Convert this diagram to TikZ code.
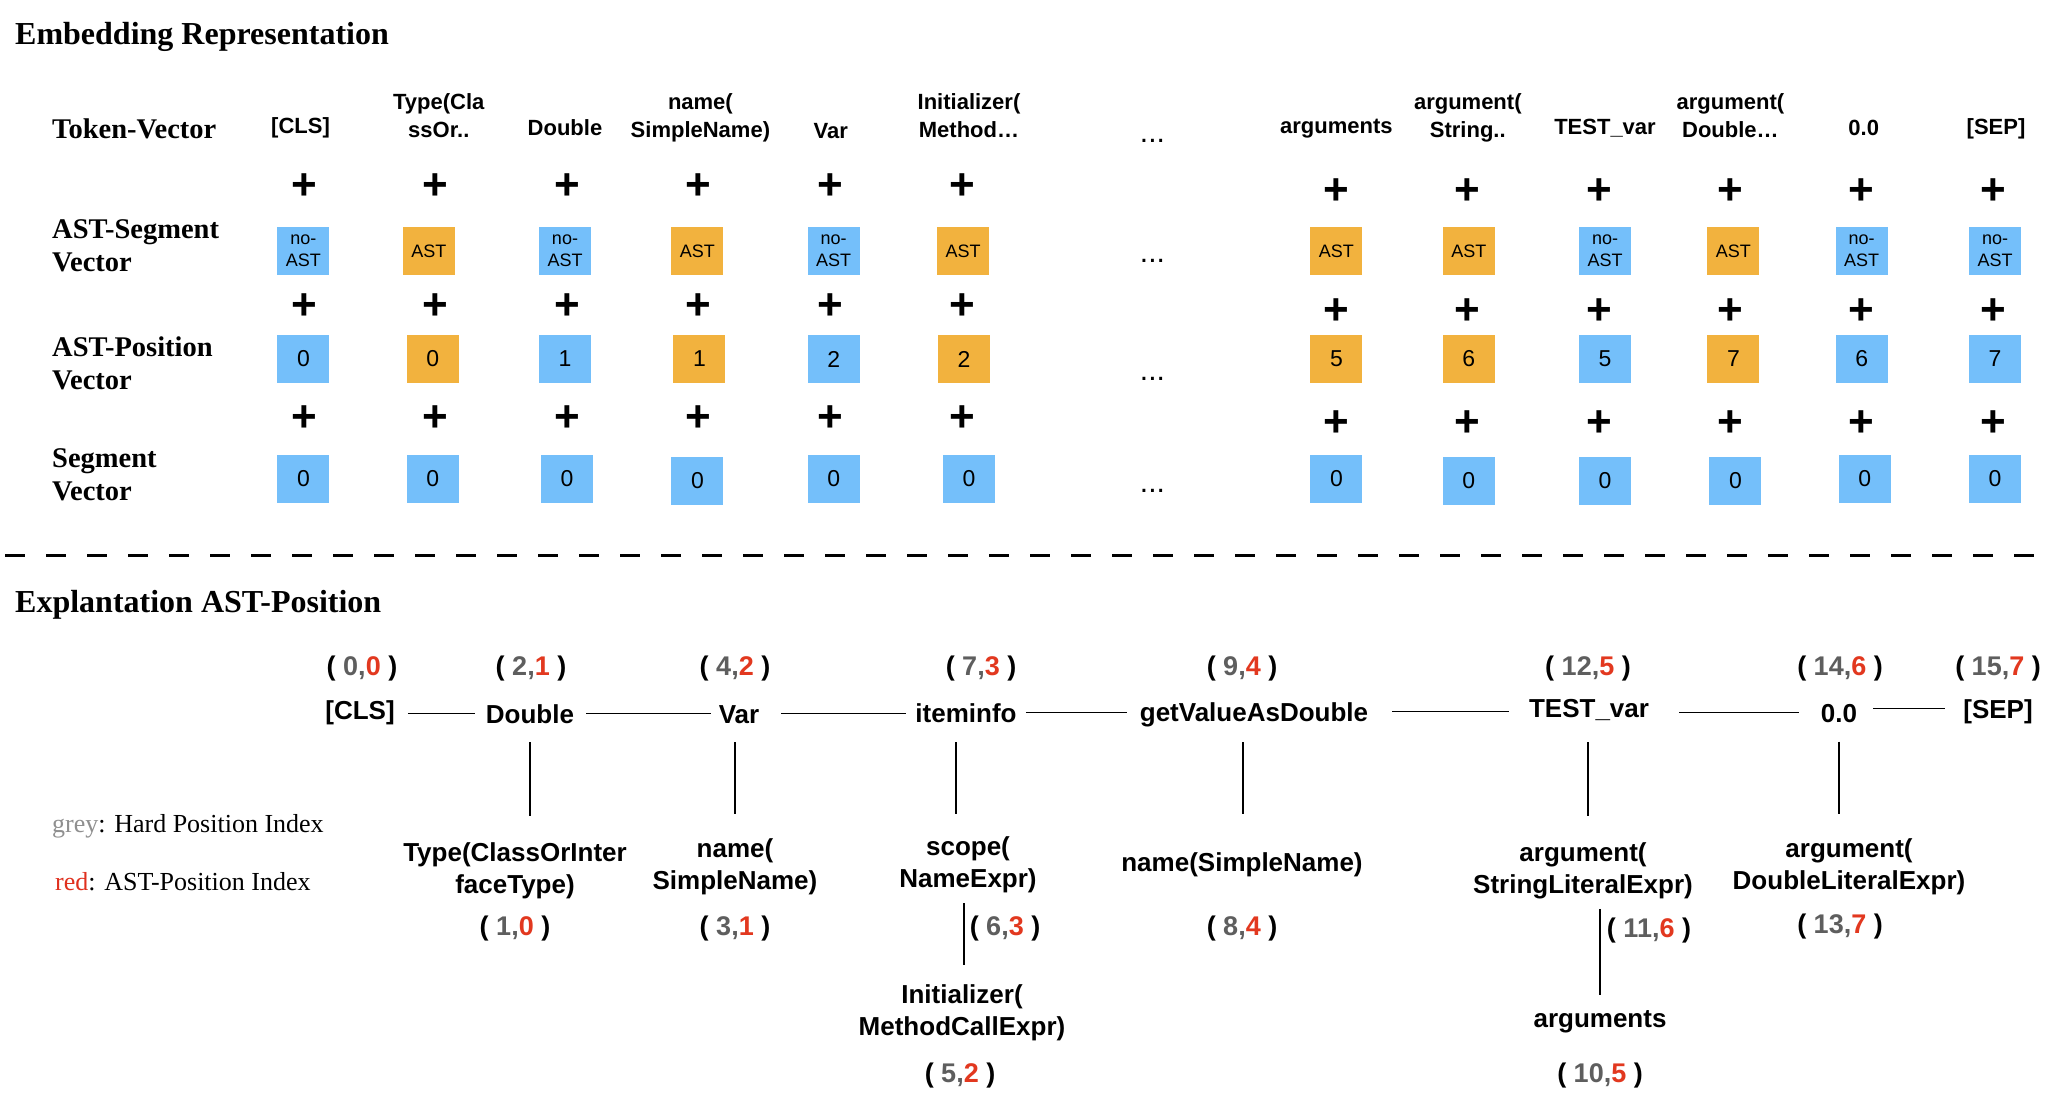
\documentclass[tikz,border=0pt]{standalone}
\usepackage{fontspec}
\setmainfont{Liberation Serif}
\newfontfamily\hv{Liberation Sans}
\definecolor{cblue}{HTML}{74BFFA}
\definecolor{corange}{HTML}{F2B23E}
\definecolor{cgrey}{HTML}{5E5E5E}
\definecolor{cred}{HTML}{E2381F}
\definecolor{lgrey}{HTML}{8F8F8F}
\definecolor{lred}{HTML}{E0301E}
\newcommand\cpos[2]{( \textcolor{cgrey}{#1,}\textcolor{cred}{#2} )}
\begin{document}
\begin{tikzpicture}[x=1pt,y=-1pt,
 ttl/.style={font=\bfseries\fontsize{32}{38}\selectfont, anchor=base west, inner sep=0pt},
 rowlab/.style={font=\bfseries\fontsize{28.5}{33}\selectfont, align=left, inner sep=0pt},
 tok/.style={font=\hv\bfseries\fontsize{22}{28}\selectfont, inner sep=0pt, align=center},
 plussign/.style={font=\hv\bfseries\fontsize{44}{44}\selectfont, inner sep=0pt},
 ell/.style={font=\hv\fontsize{30}{30}\selectfont, anchor=base, inner sep=0pt},
 bbox/.style={minimum width=52pt, minimum height=48pt, inner sep=0pt, align=center, font=\hv\fontsize{18}{22}\selectfont},
 blu/.style={bbox, fill=cblue},
 org/.style={bbox, fill=corange},
 dig/.style={font=\hv\fontsize{23}{24}\selectfont},
 tn/.style={font=\hv\bfseries\fontsize{26}{32}\selectfont, anchor=base, inner sep=0pt, text height=19pt, text depth=0pt},
 tc/.style={font=\hv\bfseries\fontsize{26}{32}\selectfont, align=center, anchor=north, inner sep=0pt},
 co/.style={font=\hv\bfseries\fontsize{27}{32}\selectfont, inner sep=0pt},
 conn/.style={line width=1.8pt},
 leg/.style={font=\fontsize{26}{30}\selectfont, anchor=base west, inner sep=0pt}]

\fill[white] (0,0) rectangle (2070,1100);
\useasboundingbox (0,0) rectangle (2070,1100);

% ---------- titles ----------
\node[ttl] (title1) at (15,44) {Embedding Representation};
\node[ttl] (title2) at (15,612) {Explantation AST-Position};

% ---------- row labels ----------
\node[rowlab, anchor=base west] (rTok) at (52,138) {Token-Vector};
\node[rowlab, anchor=north west] (rSeg) at (52,219) {AST-Segment\\Vector};
\node[rowlab, anchor=north west] (rPos) at (52,337) {AST-Position\\Vector};
\node[rowlab, anchor=north west] (rSg) at (52,448) {Segment\\Vector};

% ---------- token labels ----------
\node[tok, anchor=base] (t1) at (300.5,133) {[CLS]};
\node[tok, anchor=north] (t2) at (438.8,93) {Type(Cla\\ssOr..};
\node[tok, anchor=base] (t3) at (565,135) {Double};
\node[tok, anchor=north] (t4) at (700.4,93) {name(\\SimpleName)};
\node[tok, anchor=base] (t5) at (830.7,138) {Var};
\node[tok, anchor=north] (t6) at (969,93) {Initializer(\\Method…};
\node[tok, anchor=base] (t7) at (1336.4,133) {arguments};
\node[tok, anchor=north] (t8) at (1467.8,93) {argument(\\String..};
\node[tok, anchor=base] (t9) at (1605,134) {TEST\_var};
\node[tok, anchor=north] (t10) at (1730.4,93) {argument(\\Double…};
\node[tok, anchor=base] (t11) at (1863.7,135) {0.0};
\node[tok, anchor=base] (t12) at (1996,134) {[SEP]};

% ---------- ellipses ----------
\node[ell] (e1) at (1152.4,142) {...};
\node[ell] (e2) at (1152.4,262) {...};
\node[ell] (e3) at (1152.4,380) {...};
\node[ell] (e4) at (1152.4,492) {...};

% ---------- plus signs ----------
\foreach \i/\x in {1/304.4,2/435.8,3/567,4/698.4,5/830.7,6/962}{
  \node[plussign] (pa\i) at (\x,187) {+};
  \node[plussign] (pb\i) at (\x,307) {+};
  \node[plussign] (pc\i) at (\x,419) {+};
}
\foreach \i/\x in {7/1336.4,8/1467.8,9/1599,10/1730.4,11/1861.7,12/1993}{
  \node[plussign] (pa\i) at (\x,192) {+};
  \node[plussign] (pb\i) at (\x,312) {+};
  \node[plussign] (pc\i) at (\x,424) {+};
}

% ---------- AST-segment boxes ----------
\foreach \i/\x/\c/\t in {1/303.4/blu/no-\\AST, 2/428.8/org/AST, 3/565/blu/no-\\AST, 4/697.4/org/AST,
  5/833.7/blu/no-\\AST, 6/963/org/AST, 7/1336.4/org/AST, 8/1468.8/org/AST, 9/1605/blu/no-\\AST,
  10/1733.4/org/AST, 11/1861.7/blu/no-\\AST, 12/1995/blu/no-\\AST}{
  \node[\c] (seg\i) at (\x,251) {\t};
}

% ---------- AST-position boxes ----------
\foreach \i/\x/\c/\t in {1/303.4/blu/0, 2/432.8/org/0, 3/565/blu/1, 4/699.4/org/1, 5/833.7/blu/2, 6/964/org/2,
  7/1336.4/org/5, 8/1468.8/org/6, 9/1605/blu/5, 10/1733.4/org/7, 11/1861.7/blu/6, 12/1995/blu/7}{
  \node[\c, dig] (pos\i) at (\x,359) {\t};
}

% ---------- segment boxes ----------
\foreach \i/\x/\y in {1/303.4/479, 2/432.8/479, 3/567/479, 4/697.4/481, 5/833.7/479, 6/969/479,
  7/1336.4/479, 8/1468.8/481, 9/1605/481, 10/1735.4/481, 11/1864.7/479, 12/1995/479}{
  \node[blu, dig] (sg\i) at (\x,\y) {0};
}

% ---------- separator ----------
\draw[line width=3pt, dash pattern=on 20pt off 21pt] (5,555) -- (2051,555);

% ---------- tree: main row ----------
\node[tn] (cls) at (360,719) {[CLS]};
\node[tn] (dbl) at (530,723) {Double};
\node[tn] (var) at (739,723) {Var};
\node[tn] (item) at (966,722) {iteminfo};
\node[tn] (get) at (1254,721) {getValueAsDouble};
\node[tn] (test) at (1589,717) {TEST\_var};
\node[tn] (zero) at (1839,722) {0.0};
\node[tn] (sep) at (1998,718) {[SEP]};

\draw[conn, shorten <=13pt, shorten >=11pt] (cls.east |- dbl.west) -- (dbl.west);
\draw[conn, shorten <=12pt, shorten >=8pt] (dbl.east) -- (dbl.east -| var.west);
\draw[conn, shorten <=22pt, shorten >=9pt] (var.east) -- (var.east -| item.west);
\draw[conn, shorten <=9pt, shorten >=13pt] (item.east) -- (item.east -| get.west);
\draw[conn, shorten <=24pt, shorten >=20pt] (get.east) -- (get.east -| test.west);
\draw[conn, shorten <=30pt, shorten >=22pt] (zero.west -| test.east) -- (zero.west);
\draw[conn, shorten <=16pt, shorten >=18pt] (sep.west -| zero.east) -- (sep.west);

% ---------- tree: children ----------
\node[tc] (typec) at (515,842) {Type(ClassOrInter\\faceType)};
\node[tc] (namea) at (735,838) {name(\\SimpleName)};
\node[tc] (scope) at (968,836) {scope(\\NameExpr)};
\node[tc] (init) at (962,984) {Initializer(\\MethodCallExpr)};
\node[tc] (nameb) at (1242,852) {name(SimpleName)};
\node[tc] (args) at (1583,842) {argument(\\StringLiteralExpr)};
\node[tc] (argus) at (1600,1010) {arguments};
\node[tc] (argd) at (1849,838) {argument(\\DoubleLiteralExpr)};

\draw[conn, shorten <=19pt, shorten >=26.5pt] (dbl.south) -- (dbl.south |- typec.north);
\draw[conn, shorten <=19pt, shorten >=24.3pt] ([xshift=-4pt]var.south) -- ([xshift=-4pt]var.south |- namea.north);
\draw[conn, shorten <=20pt, shorten >=22.3pt] ([xshift=-10pt]item.south) -- ([xshift=-10pt]item.south |- scope.north);
\draw[conn, shorten <=21pt, shorten >=38.3pt] ([xshift=-11pt]get.south) -- ([xshift=-11pt]get.south |- nameb.north);
\draw[conn, shorten <=25pt, shorten >=26.5pt] ([xshift=-1pt]test.south) -- ([xshift=-1pt]test.south |- args.north);
\draw[conn, shorten <=19.5pt, shorten >=24.3pt] (zero.south) -- (zero.south |- argd.north);
\draw[conn, shorten <=10.5pt, shorten >=19pt] ([xshift=-4pt]scope.south) -- ([xshift=-4pt]scope.south |- init.north);
\draw[conn, shorten <=10pt, shorten >=15pt] ([xshift=17pt]args.south) -- ([xshift=17pt]args.south |- argus.north);

% ---------- position labels ----------
\node[co] (c00) at (362,669) {\cpos{0}{0}};
\node[co] (c21) at (531,669) {\cpos{2}{1}};
\node[co] (c42) at (735,669) {\cpos{4}{2}};
\node[co] (c73) at (981,669) {\cpos{7}{3}};
\node[co] (c94) at (1242,669) {\cpos{9}{4}};
\node[co] (c125) at (1588,669) {\cpos{12}{5}};
\node[co] (c146) at (1840,669) {\cpos{14}{6}};
\node[co] (c157) at (1998,669) {\cpos{15}{7}};
\node[co] (c10) at (515,929) {\cpos{1}{0}};
\node[co] (c31) at (735,929) {\cpos{3}{1}};
\node[co] (c63) at (1005,929) {\cpos{6}{3}};
\node[co] (c52) at (960,1076) {\cpos{5}{2}};
\node[co] (c84) at (1242,929) {\cpos{8}{4}};
\node[co] (c116) at (1649,931) {\cpos{11}{6}};
\node[co] (c105) at (1600,1076) {\cpos{10}{5}};
\node[co] (c137) at (1840,927) {\cpos{13}{7}};

% ---------- legend ----------
\node[leg] (lg1) at (52,832) {\textcolor{lgrey}{grey}: Hard Position Index};
\node[leg] (lg2) at (55,890) {\textcolor{lred}{red}: AST-Position Index};
\end{tikzpicture}
\end{document}
